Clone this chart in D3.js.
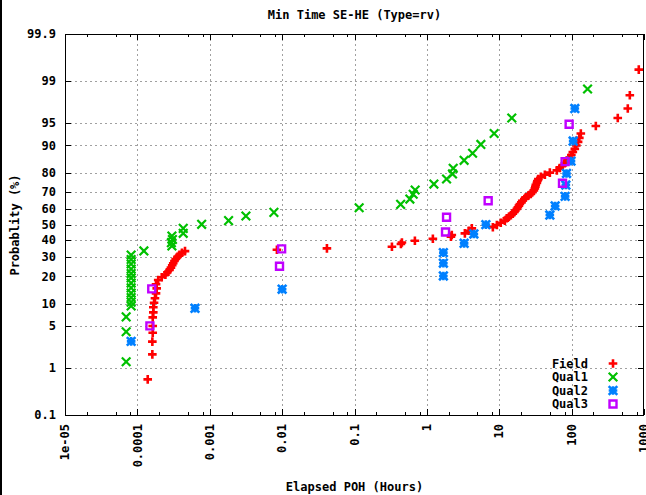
<!DOCTYPE html>
<html>
<head>
<meta charset="utf-8">
<script src="https://cdn.jsdelivr.net/npm/d3@7"></script>
<style>
  body { margin: 0; background: #fff; }
  svg text { font-family: "DejaVu Sans Mono", monospace; font-weight: bold; font-size: 12px; fill: #000; }
</style>
</head>
<body>
<div id="chart"></div>
<script>
/* data: [hours, percent] */
const field = [
  [1.39e-4, 0.60], [1.61e-4, 1.76], [1.61e-4, 2.87], [1.63e-4, 3.95], [1.63e-4, 4.99], [1.63e-4, 6.6],
  [1.66e-4, 7.7], [1.66e-4, 8.96], [1.70e-4, 10.2], [1.75e-4, 11.6], [1.81e-4, 13.2], [1.85e-4, 15.0],
  [1.81e-4, 16.6], [1.94e-4, 18.4], [2.17e-4, 19.6], [2.44e-4, 20.8], [2.60e-4, 21.9], [2.78e-4, 23.1],
  [2.91e-4, 24.2], [3.03e-4, 25.4], [3.13e-4, 26.5], [3.25e-4, 27.7], [3.38e-4, 28.8], [3.58e-4, 30.0],
  [3.82e-4, 31.1], [4.13e-4, 32.3], [4.55e-4, 33.3],
  [8.47e-3, 34.1], [0.0416, 34.9], [0.329, 35.9], [0.438, 37.6], [0.452, 38.5], [0.683, 39.6],
  [1.21, 40.9], [2.15, 42.2], [2.21, 43.2], [3.35, 44.3], [3.80, 46.0], [4.18, 47.5], [8.16, 48.2],
  [9.27, 49.7], [10.5, 51.1], [11.95, 52.5], [12.7, 54.0],
  [13.6, 55], [14.5, 56], [15.4, 57], [16.2, 58], [16.7, 59], [17.5, 60], [18.1, 61], [18.7, 62],
  [19.3, 63], [20.2, 64], [20.8, 65], [22.2, 66], [23.3, 67], [25.2, 68], [27.3, 69], [28.7, 70],
  [30.1, 71], [31.0, 72], [31.5, 73], [32.0, 74], [33.1, 75], [33.6, 76], [34.7, 77], [37.6, 78],
  [42.7, 79], [50.0, 80], [62.5, 81], [68.7, 82], [74.4, 83], [80.6, 84], [87.2, 85], [92.9, 86],
  [99.1, 87], [103.9, 88], [110.7, 89], [116.1, 90], [122.9, 91], [127.8, 92], [134.0, 93],
  [216, 94.5], [434, 95.8], [597, 97.0], [637, 98.2], [847, 99.4]
];
const qual1 = [
  [7.0e-5, 1.3], [7.0e-5, 4.1], [7.0e-5, 6.7],
  [8.2e-5, 9.3], [8.2e-5, 10.4], [8.2e-5, 11.8], [8.2e-5, 13.3], [8.2e-5, 15.2], [8.2e-5, 17.1],
  [8.2e-5, 19.3], [8.2e-5, 21.3], [8.2e-5, 23.5], [8.2e-5, 26.1], [8.2e-5, 28.5], [8.2e-5, 31.0],
  [1.23e-4, 33.4], [3.0e-4, 36.4], [2.95e-4, 38.4], [3.05e-4, 40.4], [3.0e-4, 42.6],
  [4.3e-4, 44.3], [4.3e-4, 47.5], [7.73e-4, 50.1], [1.82e-3, 52.5], [3.16e-3, 55.5], [7.7e-3, 57.8],
  [0.116, 60.7], [0.434, 62.8], [0.582, 66.0], [0.647, 68.8], [0.689, 71.2], [1.25, 74.4],
  [1.87, 77.0], [2.26, 79.4], [2.31, 81.9], [3.27, 85.1], [4.28, 87.6], [5.57, 90.3], [8.5, 93.0],
  [14.9, 95.8], [166, 98.6]
];
const qual2 = [
  [8.2e-5, 2.9], [6.25e-4, 8.7], [0.0100, 14.7], [1.69, 20.2], [1.69, 26.5], [1.69, 32.4],
  [3.27, 38.0], [4.46, 43.9], [6.53, 49.9], [50.0, 56.1], [59.2, 61.8], [81.3, 67.6], [83.2, 73.9],
  [85, 79.6], [98, 84.8], [105, 91.2], [110.7, 97.0]
];
const qual3 = [
  [1.49e-4, 5.0], [1.58e-4, 14.8], [9.2e-3, 24.9], [9.84e-3, 34.6], [1.81, 45.2], [1.87, 54.7],
  [7.03, 65.0], [74.8, 74.8], [81.3, 84.6], [92.4, 94.8]
];

const seriesNames = ['Field', 'Qual1', 'Qual2', 'Qual3'];
const xTicks = [1e-5, 1e-4, 1e-3, 1e-2, 0.1, 1, 10, 100, 1000];
const xTickLabels = ['1e-05', '0.0001', '0.001', '0.01', '0.1', '1', '10', '100', '1000'];
const yTicks = [0.1, 1, 5, 10, 20, 30, 40, 50, 60, 70, 80, 90, 95, 99, 99.9];

/* inverse normal cdf (Acklam) */
function probit(p) {
  const a = [-3.969683028665376e+01, 2.209460984245205e+02, -2.759285104469687e+02, 1.383577518672690e+02, -3.066479806614716e+01, 2.506628277459239e+00];
  const b = [-5.447609879822406e+01, 1.615858368580409e+02, -1.556989798598866e+02, 6.680131188771972e+01, -1.328068155288572e+01];
  const c = [-7.784894002430293e-03, -3.223964580411365e-01, -2.400758277161838e+00, -2.549732539343734e+00, 4.374664141464968e+00, 2.938163982698783e+00];
  const d = [7.784695709041462e-03, 3.224671290700398e-01, 2.445134137142996e+00, 3.754408661907416e+00];
  const pl = 0.02425;
  if (p < pl) {
    const q = Math.sqrt(-2 * Math.log(p));
    return (((((c[0]*q+c[1])*q+c[2])*q+c[3])*q+c[4])*q+c[5]) / ((((d[0]*q+d[1])*q+d[2])*q+d[3])*q+1);
  }
  if (p > 1 - pl) {
    const q = Math.sqrt(-2 * Math.log(1 - p));
    return -(((((c[0]*q+c[1])*q+c[2])*q+c[3])*q+c[4])*q+c[5]) / ((((d[0]*q+d[1])*q+d[2])*q+d[3])*q+1);
  }
  const q = p - 0.5, r = q * q;
  return (((((a[0]*r+a[1])*r+a[2])*r+a[3])*r+a[4])*r+a[5])*q / (((((b[0]*r+b[1])*r+b[2])*r+b[3])*r+b[4])*r+1);
}

const margin = { left: 65, right: 644, top: 34, bottom: 415 };

const x = d3.scaleLog().domain([1e-5, 1000]).range([margin.left, margin.right]);
const z = d3.scaleLinear().domain([probit(0.001), probit(0.999)]).range([margin.bottom, margin.top]);
const y = pct => z(probit(pct / 100));

const svg = d3.select('#chart').append('svg')
    .attr('width', 646)
    .attr('height', 495);

/* outer frame edge on the left */
svg.append('rect').attr('x', 0).attr('y', 0).attr('width', 2).attr('height', 495).attr('fill', '#000');

const px = v => Math.round(v) + 0.5;

/* grid */
const grid = svg.append('g').attr('stroke', '#a0a0a0').attr('stroke-dasharray', '2,3').attr('stroke-width', 1);
xTicks.slice(1, -1).forEach(t => {
  grid.append('line').attr('x1', px(x(t))).attr('x2', px(x(t))).attr('y1', margin.top).attr('y2', margin.bottom);
});
yTicks.slice(1, -1).forEach(t => {
  grid.append('line').attr('y1', px(y(t))).attr('y2', px(y(t))).attr('x1', margin.left).attr('x2', margin.right);
});

/* ticks, mirrored on all sides */
const ticks = svg.append('g').attr('stroke', '#000').attr('stroke-width', 1);
xTicks.forEach(t => {
  const xx = px(x(t));
  ticks.append('line').attr('x1', xx).attr('x2', xx).attr('y1', margin.bottom).attr('y2', margin.bottom - 6);
  ticks.append('line').attr('x1', xx).attr('x2', xx).attr('y1', margin.top).attr('y2', margin.top + 6);
});
xTicks.slice(0, -1).forEach(t => {
  [2, 5, 8].forEach(m => {
    const xx = px(x(t * m));
    ticks.append('line').attr('x1', xx).attr('x2', xx).attr('y1', margin.bottom).attr('y2', margin.bottom - 3);
    ticks.append('line').attr('x1', xx).attr('x2', xx).attr('y1', margin.top).attr('y2', margin.top + 3);
  });
});
yTicks.forEach(t => {
  const yy = px(y(t));
  ticks.append('line').attr('y1', yy).attr('y2', yy).attr('x1', margin.left).attr('x2', margin.left + 6);
  ticks.append('line').attr('y1', yy).attr('y2', yy).attr('x1', margin.right).attr('x2', margin.right - 6);
});

/* border */
svg.append('rect')
    .attr('x', margin.left + 0.5).attr('y', margin.top + 0.5)
    .attr('width', margin.right - margin.left - 1).attr('height', margin.bottom - margin.top)
    .attr('fill', 'none').attr('stroke', '#000');

/* tick labels */
svg.append('g').selectAll('text').data(yTicks).join('text')
    .attr('x', 56).attr('y', d => y(d)).attr('dy', '0.35em')
    .attr('text-anchor', 'end')
    .text(d => String(d));

svg.append('g').selectAll('text').data(xTicks).join('text')
    .attr('transform', d => `translate(${x(d)},424) rotate(-90)`)
    .attr('dy', '0.35em')
    .attr('text-anchor', 'end')
    .text((d, i) => xTickLabels[i]);

/* titles */
svg.append('text').attr('x', 354.5).attr('y', 15).attr('dy', '0.35em').attr('text-anchor', 'middle')
    .text('Min Time SE-HE (Type=rv)');
svg.append('text').attr('x', 354.5).attr('y', 487).attr('dy', '0.35em').attr('text-anchor', 'middle')
    .text('Elapsed POH (Hours)');
svg.append('text').attr('transform', 'translate(15,225) rotate(-90)').attr('dy', '0.35em').attr('text-anchor', 'middle')
    .text('Probablity (%)');

/* point glyphs */
const s = 4.3;
const glyphs = {
  Field: { color: '#ff0000', width: 2.6, path: `M${-s},0H${s}M0,${-s}V${s}` },
  Qual1: { color: '#00c000', width: 2.2, path: `M${-s},${-s}L${s},${s}M${-s},${s}L${s},${-s}` },
  Qual2: { color: '#0080ff', width: 2.6, path: `M${-s},0H${s}M0,${-s}V${s}M${-s},${-s}L${s},${s}M${-s},${s}L${s},${-s}` },
  Qual3: { color: '#c000ff', width: 2.4, path: `M-3.5,-3.5H3.5V3.5H-3.5Z` }
};
const allSeries = [field, qual1, qual2, qual3];

const plot = svg.append('g');
allSeries.forEach((data, i) => {
  const g = glyphs[seriesNames[i]];
  plot.append('g').selectAll('path').data(data).join('path')
      .attr('transform', d => `translate(${x(d[0])},${y(d[1])})`)
      .attr('d', g.path)
      .attr('fill', 'none')
      .attr('stroke', g.color)
      .attr('stroke-width', g.width);
});

/* legend */
const legend = svg.append('g');
seriesNames.forEach((name, i) => {
  const ly = 363.5 + i * 13.5;
  const g = glyphs[name];
  legend.append('text').attr('x', 588).attr('y', ly).attr('dy', '0.35em').attr('text-anchor', 'end').text(name);
  legend.append('path').attr('transform', `translate(613,${ly})`).attr('d', g.path)
      .attr('fill', 'none').attr('stroke', g.color).attr('stroke-width', g.width);
});
</script>
</body>
</html>
